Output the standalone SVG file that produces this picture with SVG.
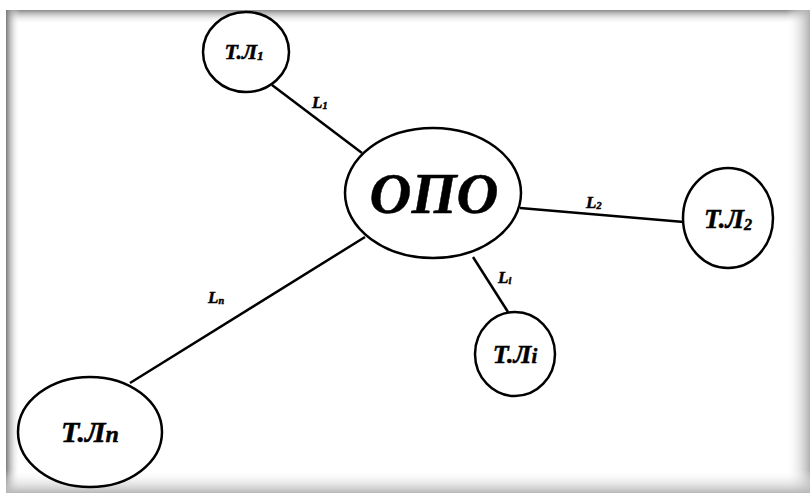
<svg xmlns="http://www.w3.org/2000/svg" width="810" height="493" viewBox="0 0 810 493">
  <defs>
    <linearGradient id="shTop" x1="0" y1="0" x2="0" y2="1">
      <stop offset="0" stop-color="#8a8a8a"/>
      <stop offset="1" stop-color="#ffffff" stop-opacity="0"/>
    </linearGradient>
    <linearGradient id="shLeft" x1="0" y1="0" x2="1" y2="0">
      <stop offset="0" stop-color="#7a7a7a"/>
      <stop offset="1" stop-color="#ffffff" stop-opacity="0"/>
    </linearGradient>
    <linearGradient id="shRight" x1="0" y1="0" x2="1" y2="0">
      <stop offset="0" stop-color="#ffffff" stop-opacity="0"/>
      <stop offset="1" stop-color="#b0b0b0"/>
    </linearGradient>
    <linearGradient id="shBottom" x1="0" y1="0" x2="0" y2="1">
      <stop offset="0" stop-color="#ffffff" stop-opacity="0"/>
      <stop offset="1" stop-color="#b8b8b8"/>
    </linearGradient>
  </defs>
  <style>
    .node { fill: #ffffff; stroke: #000000; stroke-width: 2.5; }
    .edge { stroke: #000000; stroke-width: 2.5; fill: none; }
    .lbl { font-family: "Liberation Serif", "Times New Roman", serif; font-weight: bold; font-style: italic; fill: #000000; stroke: #000000; stroke-width: 0.5; }
    .sub { font-size: 60%; }
  </style>

  <!-- page frame with soft shading -->
  <rect x="0" y="0" width="810" height="493" fill="#ffffff"/>
  <rect x="6" y="10" width="804" height="483" fill="#ffffff"/>
  <rect x="6" y="10" width="804" height="14" fill="url(#shTop)"/>
  <rect x="6" y="10" width="14" height="483" fill="url(#shLeft)"/>
  <rect x="786" y="10" width="24" height="483" fill="url(#shRight)"/>
  <rect x="6" y="470" width="804" height="23" fill="url(#shBottom)"/>

  <!-- connectors -->
  <g id="connectors">
    <line class="edge" x1="272" y1="85" x2="362" y2="153"/>
    <line class="edge" x1="520" y1="208" x2="684" y2="222"/>
    <line class="edge" x1="473" y1="257" x2="508" y2="312"/>
    <line class="edge" x1="365" y1="237" x2="130" y2="383"/>
    <text class="lbl" x="312" y="108" font-size="17">L<tspan class="sub" dy="1">1</tspan></text>
    <text class="lbl" x="586" y="208" font-size="17">L<tspan class="sub" dy="1">2</tspan></text>
    <text class="lbl" x="498" y="283" font-size="17">L<tspan class="sub" dy="1">i</tspan></text>
    <text class="lbl" x="208" y="303" font-size="17">L<tspan class="sub" dy="1">n</tspan></text>
  </g>

  <g id="opo">
    <ellipse class="node" cx="433" cy="193" rx="88" ry="65"/>
    <text class="lbl" x="434" y="213" font-size="58" text-anchor="middle">ОПО</text>
  </g>

  <g id="tl1">
    <ellipse class="node" cx="246" cy="52" rx="43" ry="40"/>
    <text class="lbl" x="244" y="59" font-size="22" text-anchor="middle">Т.Л<tspan class="sub" dy="1">1</tspan></text>
  </g>

  <g id="tl2">
    <ellipse class="node" cx="728" cy="218" rx="45" ry="50"/>
    <text class="lbl" x="728" y="228" font-size="27" text-anchor="middle">Т.Л<tspan class="sub" dy="2">2</tspan></text>
  </g>

  <g id="tli">
    <ellipse class="node" cx="515" cy="354" rx="40" ry="42"/>
    <text class="lbl" x="515" y="363" font-size="26" text-anchor="middle">Т.Л<tspan font-size="80%">i</tspan></text>
  </g>

  <g id="tln">
    <ellipse class="node" cx="90" cy="432" rx="72" ry="55"/>
    <text class="lbl" x="90" y="442" font-size="30" text-anchor="middle">Т.Л<tspan font-size="80%">n</tspan></text>
  </g>
</svg>
